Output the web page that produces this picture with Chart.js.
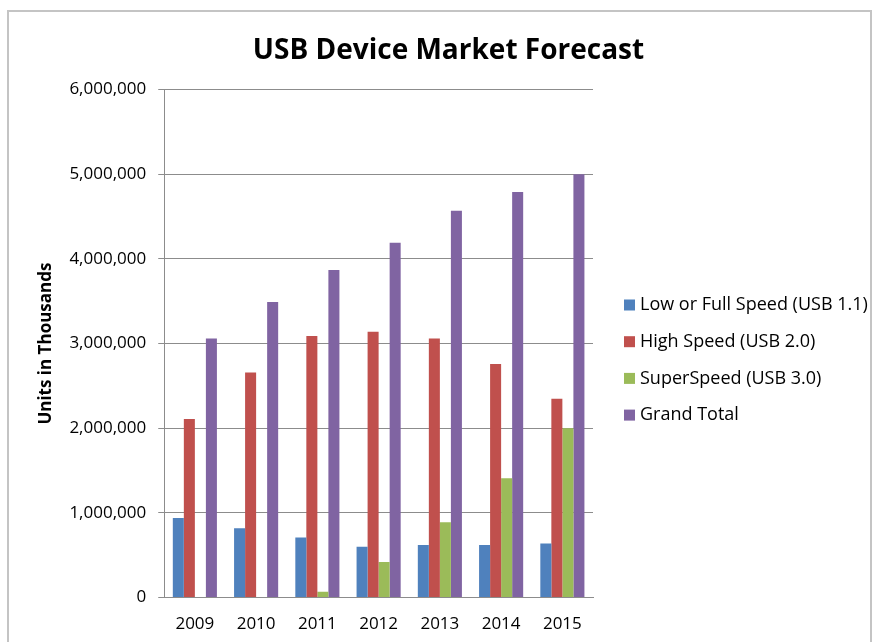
<!DOCTYPE html>
<html>
    <head>
        <meta charset="utf-8">
        <script src="https://cdn.jsdelivr.net/npm/chart.js@4.4.1/dist/chart.umd.min.js"></script>
        <title>USB Device Market Forecast</title>
        <style>
            body { margin:0; background:#fff; }
            #frame { position:absolute; left:7px; top:10px; width:861px; height:650px; border:2px solid #c4c4c4; border-bottom:none; }
        </style>
    </head>
    <body>
        <div id="frame">
            <canvas id="usb_chart" width="861" height="638"></canvas>
        </div>

        <script type="text/javascript">
            // values in thousands of units
            var years = ["2009", "2010", "2011", "2012", "2013", "2014", "2015"];
            var lowFull = [940000, 820000, 710000, 600000, 620000, 620000, 640000];
            var highSpeed = [2110000, 2660000, 3090000, 3140000, 3060000, 2760000, 2350000];
            var superSpeed = [0, 0, 70000, 420000, 890000, 1410000, 2000000];
            var grandTotal = [3060000, 3490000, 3870000, 4190000, 4570000, 4790000, 5000000];
            var yTicks = [0, 1000000, 2000000, 3000000, 4000000, 5000000, 6000000];

            var font = "'Open Sans', sans-serif";
            Chart.defaults.font.family = font;
            Chart.defaults.color = "#000";

            // excel style legend to the right of the plot; the built-in one
            // gets squeezed to half the free width, so draw it here instead
            var sideLegend = {
                id: "sideLegend",
                afterDraw: function(chart){
                    var c = chart.ctx;
                    var x = chart.chartArea.right + 31;
                    var y = 293;
                    c.save();
                    c.font = "18px " + font;
                    c.textBaseline = "middle";
                    chart.data.datasets.forEach(function(ds, i){
                        var yy = y + i * 36.7;
                        c.fillStyle = ds.backgroundColor;
                        c.fillRect(x, yy - 5.5, 11, 11);
                        c.fillStyle = "#000";
                        c.fillText(ds.label, x + 16, yy);
                    });
                    c.restore();
                }
            };

            var ctx = document.getElementById("usb_chart");
            var usb_chart = new Chart(ctx, {
                type: "bar",
                data: {
                    labels: years,
                    datasets: [
                        { label: "Low or Full Speed (USB 1.1)", data: lowFull, backgroundColor: "#4f81bd" },
                        { label: "High Speed (USB 2.0)", data: highSpeed, backgroundColor: "#c0504d" },
                        { label: "SuperSpeed (USB 3.0)", data: superSpeed, backgroundColor: "#9bbb59" },
                        { label: "Grand Total", data: grandTotal, backgroundColor: "#8064a2" }
                    ]
                },
                plugins: [sideLegend],
                options: {
                    responsive: false,
                    animation: false,
                    layout: { padding: { left: 27, right: 9, top: 4, bottom: 0 } },
                    datasets: { bar: { categoryPercentage: 0.72, barPercentage: 1.0 } },
                    plugins: {
                        title: {
                            display: true,
                            text: "USB Device Market Forecast",
                            font: { size: 28, weight: "bold" },
                            padding: { top: 18, bottom: 22 }
                        },
                        legend: { display: false },
                        tooltip: { enabled: false }
                    },
                    scales: {
                        x: {
                            grid: { display: false, drawTicks: false },
                            border: { color: "#8c8c8c" },
                            ticks: { font: { size: 17 }, padding: 16 }
                        },
                        y: {
                            min: 0,
                            max: 6000000,
                            afterBuildTicks: function(scale){
                                scale.ticks = yTicks.map(function(v){ return { value: v }; });
                            },
                            grid: { color: "#8c8c8c", tickLength: 6 },
                            border: { color: "#8c8c8c" },
                            ticks: {
                                font: { size: 17 },
                                padding: 12,
                                callback: function(v){ return v.toLocaleString("en-US"); }
                            },
                            title: {
                                display: true,
                                text: "Units in Thousands",
                                font: { size: 17, weight: "bold" },
                                padding: { top: 0, bottom: 1 }
                            }
                        },
                        // empty axis on the right that only holds room for the legend
                        legendRoom: {
                            position: "right",
                            grid: { display: false, drawOnChartArea: false },
                            border: { display: false },
                            ticks: { display: false },
                            afterFit: function(scale){ scale.width = 268; }
                        }
                    }
                }
            });
        </script>
    </body>
</html>
